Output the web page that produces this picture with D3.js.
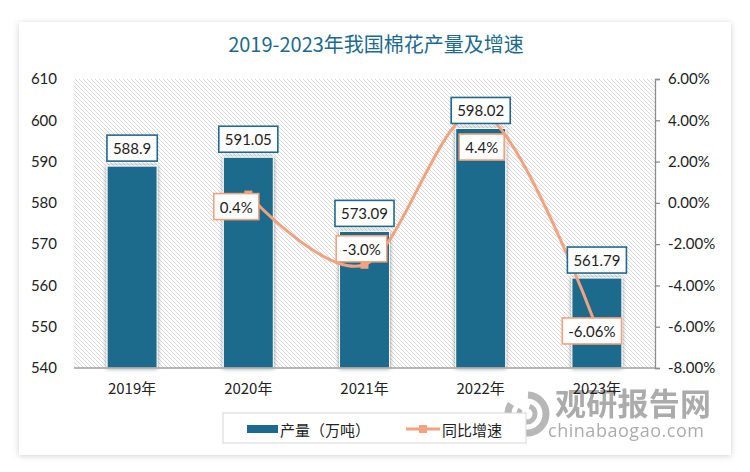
<!DOCTYPE html>
<html>
<head>
<meta charset="utf-8">
<script src="https://cdn.jsdelivr.net/npm/d3@7/dist/d3.min.js"></script>
<style>
  html, body { margin: 0; padding: 0; background: #ffffff; }
  svg { display: block; }
</style>
</head>
<body>
<div id="chart"></div>
<script>
// data
const years = ['2019年', '2020年', '2021年', '2022年', '2023年'];
const output = [588.9, 591.05, 573.09, 598.02, 561.79]; // 产量（万吨）
const growth = [null, 0.4, -3.0, 4.4, -6.06]; // 同比增速 %
const growthLabels = ['', '0.4%', '-3.0%', '4.4%', '-6.06%'];
const leftTicks = [540, 550, 560, 570, 580, 590, 600, 610];
const rightTicks = [-8, -6, -4, -2, 0, 2, 4, 6];

// label nudges for the growth labels (px from the point)
const growthLabelShift = [null, [-12, 12], [-3, -16], [1, 35], [-5, 3]];

const W = 750, H = 472;
const plot = { left: 74, right: 655, top: 79, bottom: 368 };
const barColor = '#1d6a8c';
const lineColor = '#f2a27f';
const numFont = 'Lato, "Noto Sans", sans-serif';
const cjkFont = '"Noto Sans CJK SC", sans-serif';

const svg = d3.select('#chart').append('svg')
  .attr('width', W).attr('height', H);

const defs = svg.append('defs');

// soft card shadow
const cardShadow = defs.append('filter').attr('id', 'cardShadow')
  .attr('x', '-5%').attr('y', '-5%').attr('width', '110%').attr('height', '110%');
cardShadow.append('feDropShadow')
  .attr('dx', 0).attr('dy', 1).attr('stdDeviation', 3)
  .attr('flood-color', '#000').attr('flood-opacity', 0.18);

// glow on the bars
const barShadow = defs.append('filter').attr('id', 'barShadow')
  .attr('x', '-30%').attr('y', '-10%').attr('width', '160%').attr('height', '120%');
barShadow.append('feDropShadow')
  .attr('dx', 0).attr('dy', 0).attr('stdDeviation', 2.2)
  .attr('flood-color', '#000').attr('flood-opacity', 0.45);

// diagonal hatching of the plot area
const hatch = defs.append('pattern').attr('id', 'hatch')
  .attr('patternUnits', 'userSpaceOnUse')
  .attr('width', 4).attr('height', 4);
hatch.append('rect').attr('width', 4).attr('height', 4).attr('fill', '#ffffff');
hatch.append('path')
  .attr('d', 'M-1,-1 L5,5 M-1,3 L1,5 M3,-1 L5,1')
  .attr('stroke', '#d4d4d4').attr('stroke-width', 0.9);

// card
svg.append('rect')
  .attr('x', 19).attr('y', 22).attr('width', 712).attr('height', 433)
  .attr('fill', '#ffffff')
  .attr('filter', 'url(#cardShadow)');

// title
svg.append('text')
  .attr('x', 376).attr('y', 52)
  .attr('text-anchor', 'middle')
  .attr('font-family', cjkFont)
  .attr('font-size', 20)
  .attr('fill', barColor)
  .text('2019-2023年我国棉花产量及增速');

// scales
const x = d3.scaleBand()
  .domain(years)
  .range([plot.left, plot.right])
  .paddingInner(0.57).paddingOuter(0.285);

const y = d3.scaleLinear().domain([540, 610]).range([plot.bottom, plot.top]);
const y2 = d3.scaleLinear().domain([-8, 6]).range([plot.bottom, plot.top]);

// plot background
svg.append('rect')
  .attr('x', plot.left).attr('y', plot.top)
  .attr('width', plot.right - plot.left).attr('height', plot.bottom - plot.top)
  .attr('fill', 'url(#hatch)');

// watermark (behind the axis labels)
const wm = svg.append('g').attr('opacity', 0.75);
wm.append('circle').attr('cx', 527).attr('cy', 414).attr('r', 19)
  .attr('fill', 'none').attr('stroke', '#a0a0a0').attr('stroke-width', 7)
  .attr('stroke-dasharray', '70 20');
wm.append('circle').attr('cx', 527).attr('cy', 414).attr('r', 8)
  .attr('fill', 'none').attr('stroke', '#a0a0a0').attr('stroke-width', 5)
  .attr('stroke-dasharray', '30 10');
wm.append('text')
  .attr('x', 555).attr('y', 415)
  .attr('font-family', cjkFont).attr('font-weight', 'bold')
  .attr('font-size', 31).attr('fill', '#909090')
  .attr('textLength', 156)
  .text('观研报告网');
wm.append('text')
  .attr('x', 548).attr('y', 437)
  .attr('font-family', '"Open Sans", sans-serif')
  .attr('font-size', 18).attr('fill', '#909090')
  .attr('textLength', 156)
  .text('chinabaogao.com');

// bars
svg.append('g').selectAll('rect')
  .data(output)
  .join('rect')
  .attr('x', (d, i) => x(years[i]))
  .attr('y', d => y(d))
  .attr('width', x.bandwidth())
  .attr('height', d => y(540) - y(d))
  .attr('fill', barColor)
  .attr('stroke', '#ffffff')
  .attr('stroke-width', 1)
  .attr('filter', 'url(#barShadow)');

// bottom axis line
svg.append('line')
  .attr('x1', plot.left).attr('x2', plot.right)
  .attr('y1', plot.bottom).attr('y2', plot.bottom)
  .attr('stroke', '#a0a0a0').attr('stroke-width', 1.5);

// x axis labels
const xAxis = svg.append('g')
  .attr('transform', `translate(0, ${plot.bottom})`)
  .call(d3.axisBottom(x).tickSize(0).tickPadding(15));
xAxis.select('.domain').remove();
xAxis.selectAll('text')
  .attr('font-family', cjkFont).attr('font-size', 15).attr('fill', '#222');

// left axis (labels only)
const yAxis = svg.append('g')
  .attr('transform', `translate(${plot.left}, 0)`)
  .call(d3.axisLeft(y).tickValues(leftTicks).tickSize(0).tickPadding(17));
yAxis.select('.domain').remove();
yAxis.selectAll('text')
  .attr('font-family', numFont).attr('font-size', 15).attr('fill', '#222');

// right axis
const y2Axis = svg.append('g')
  .attr('transform', `translate(${plot.right}, 0)`)
  .call(d3.axisRight(y2).tickValues(rightTicks).tickSizeInner(5).tickSizeOuter(5)
    .tickPadding(8).tickFormat(d => d.toFixed(2) + '%'));
y2Axis.selectAll('.domain, line').attr('stroke', '#8c8c8c').attr('stroke-width', 1.3);
y2Axis.selectAll('text')
  .attr('font-family', numFont).attr('font-size', 15).attr('fill', '#222');

// growth line
const pts = growth.map((g, i) => ({ g, i })).filter(d => d.g !== null);
const cx = d => x(years[d.i]) + x.bandwidth() / 2;

svg.append('path')
  .datum(pts)
  .attr('d', d3.line().x(cx).y(d => y2(d.g)).curve(d3.curveCatmullRom.alpha(0)))
  .attr('fill', 'none')
  .attr('stroke', lineColor)
  .attr('stroke-width', 3);

svg.append('g').selectAll('rect')
  .data(pts)
  .join('rect')
  .attr('x', d => cx(d) - 4).attr('y', d => y2(d.g) - 4)
  .attr('width', 8).attr('height', 8)
  .attr('fill', lineColor);

// label boxes
function labelBox(g, cxp, cyp, text, stroke) {
  const t = g.append('text')
    .attr('x', cxp).attr('y', cyp)
    .attr('text-anchor', 'middle')
    .attr('dominant-baseline', 'central')
    .attr('font-family', numFont).attr('font-size', 15).attr('fill', '#222')
    .text(text);
  const w = t.node().getComputedTextLength() + 12;
  g.insert('rect', 'text')
    .attr('x', cxp - w / 2).attr('y', cyp - 13)
    .attr('width', w).attr('height', 26)
    .attr('fill', '#ffffff')
    .attr('stroke', stroke).attr('stroke-width', 1.6);
}

const barLabels = svg.append('g');
output.forEach((v, i) => {
  const g = barLabels.append('g');
  labelBox(g, x(years[i]) + x.bandwidth() / 2, y(v) - 18, String(v), barColor);
});

const lineLabels = svg.append('g');
pts.forEach(d => {
  const s = growthLabelShift[d.i];
  const g = lineLabels.append('g');
  labelBox(g, cx(d) + s[0], y2(d.g) + s[1], growthLabels[d.i], lineColor);
});

// legend
const legend = svg.append('g');
legend.append('rect')
  .attr('x', 223).attr('y', 413).attr('width', 303).attr('height', 30)
  .attr('fill', '#ffffff').attr('stroke', '#d6d6d6').attr('stroke-width', 1);
legend.append('rect')
  .attr('x', 247).attr('y', 425).attr('width', 31).attr('height', 8)
  .attr('fill', barColor);
legend.append('text')
  .attr('x', 280).attr('y', 429).attr('dominant-baseline', 'central')
  .attr('font-family', cjkFont).attr('font-size', 15).attr('fill', '#222')
  .text('产量（万吨）');
legend.append('line')
  .attr('x1', 406).attr('x2', 440).attr('y1', 429).attr('y2', 429)
  .attr('stroke', lineColor).attr('stroke-width', 3);
legend.append('rect')
  .attr('x', 419).attr('y', 425).attr('width', 8).attr('height', 8)
  .attr('fill', lineColor);
legend.append('text')
  .attr('x', 442).attr('y', 429).attr('dominant-baseline', 'central')
  .attr('font-family', cjkFont).attr('font-size', 15).attr('fill', '#222')
  .text('同比增速');
</script>
</body>
</html>
